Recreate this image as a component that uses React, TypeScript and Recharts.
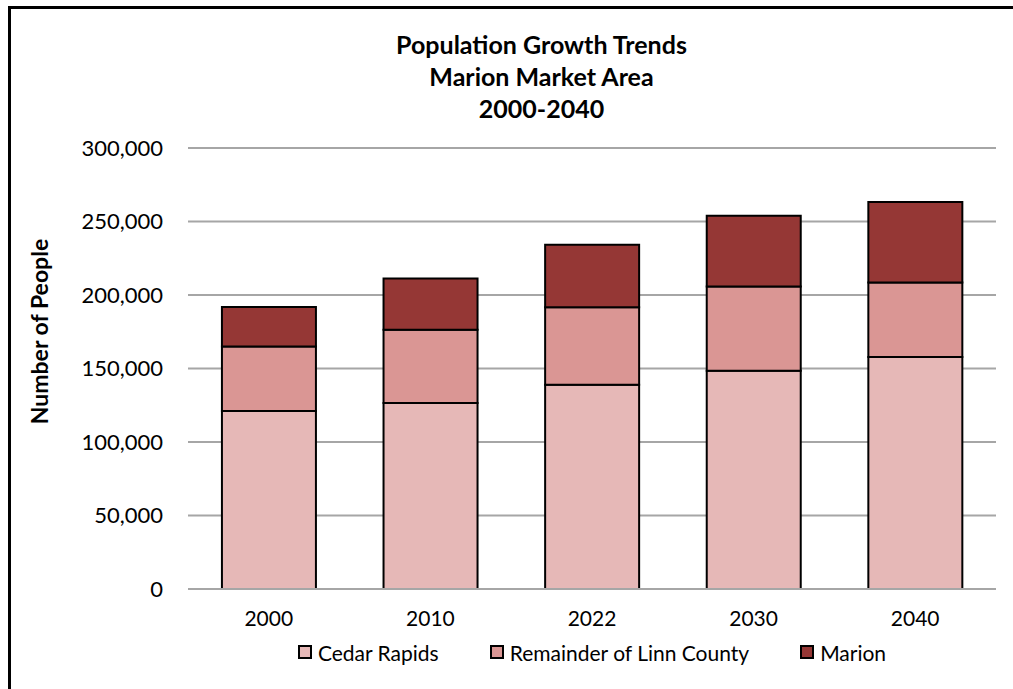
import React from 'react';
import { BarChart, Bar, XAxis, YAxis, CartesianGrid, Legend } from 'recharts';

// Population by year
const years = ['2000', '2010', '2022', '2030', '2040'];
const cedarRapids = [121100, 126500, 139000, 148500, 157800];
const remainderLinn = [43900, 49900, 52600, 57350, 50750];
const marion = [26800, 34900, 42650, 48100, 54700];
const yTicks = [0, 50000, 100000, 150000, 200000, 250000, 300000];
const titleLines = ['Population Growth Trends', 'Marion Market Area', '2000-2040'];

const series = [
  { key: 'cedarRapids', name: 'Cedar Rapids', color: '#E6B8B7' },
  { key: 'remainderLinn', name: 'Remainder of Linn County', color: '#DA9694' },
  { key: 'marion', name: 'Marion', color: '#953735' },
];

const data = years.map((year, i) => ({
  year,
  cedarRapids: cedarRapids[i],
  remainderLinn: remainderLinn[i],
  marion: marion[i],
}));

const FONT = 'Lato, "Open Sans", sans-serif';

const fmt = (v: number) => v.toLocaleString('en-US');

const LegendContent = () => (
  <div
    style={{
      display: 'flex',
      justifyContent: 'center',
      alignItems: 'center',
      paddingLeft: 180,
      height: 30,
      fontFamily: FONT,
      fontSize: 21,
      color: '#000',
    }}
  >
    {series.map((s, i) => (
      <div key={s.key} style={{ display: 'flex', alignItems: 'center', marginLeft: i === 0 ? 0 : 51 }}>
        <span
          style={{
            display: 'inline-block',
            width: 10,
            height: 10,
            background: s.color,
            border: '2px solid #000',
            marginRight: 6,
          }}
        />
        <span>{s.name}</span>
      </div>
    ))}
  </div>
);

const YLabel = (props: any) => {
  const { viewBox } = props;
  const cy = viewBox.y + viewBox.height / 2 - 37;
  return (
    <text
      x={31}
      y={cy}
      transform={`rotate(-90, 31, ${cy})`}
      textAnchor="middle"
      dominantBaseline="central"
      fontFamily={FONT}
      fontWeight="bold"
      fontSize={23}
      fill="#000"
    >
      Number of People
    </text>
  );
};

const App: React.FC = () => {
  return (
    <div style={{ position: 'relative', width: 1013, height: 689, overflow: 'hidden', fontFamily: FONT }}>
      <style>{'html,body{margin:0;padding:0;overflow:hidden;background:#fff}'}</style>
      <div style={{ position: 'absolute', left: 8, top: 8, width: 1005, height: 681 }}>
        {/* chart frame: only top and left edges fall inside the picture */}
        <div
          style={{
            position: 'absolute',
            left: 0,
            top: -2,
            width: 1040,
            height: 720,
            borderTop: '3px solid #000',
            borderLeft: '3px solid #000',
            boxSizing: 'border-box',
          }}
        />
        <div
          style={{
            position: 'absolute',
            left: 0,
            top: 20,
            width: 1067,
            textAlign: 'center',
            fontWeight: 'bold',
            fontSize: 25,
            lineHeight: '32px',
            color: '#000',
          }}
        >
          {titleLines.map((t) => (
            <div key={t}>{t}</div>
          ))}
        </div>
        <div style={{ position: 'absolute', left: 0, top: 0 }}>
          <BarChart
            width={1005}
            height={681}
            data={data}
            margin={{ top: 140, right: 17, left: 0, bottom: 22 }}
            barCategoryGap="21%"
          >
            <CartesianGrid vertical={false} stroke="#A6A6A6" strokeWidth={2} />
            <XAxis
              dataKey="year"
              tickLine={false}
              axisLine={{ stroke: '#A6A6A6', strokeWidth: 2 }}
              tickSize={0}
              tickMargin={22}
              height={48}
              tick={{ fontFamily: FONT, fontSize: 21, fill: '#000' }}
            />
            <YAxis
              width={180}
              domain={[0, 300000]}
              ticks={yTicks}
              tickFormatter={fmt}
              tickLine={false}
              axisLine={false}
              tickSize={0}
              tickMargin={25}
              tick={{ fontFamily: FONT, fontSize: 22, fill: '#000' }}
              label={{ content: YLabel }}
            />
            <Legend verticalAlign="bottom" height={30} content={LegendContent} />
            {series.map((s) => (
              <Bar
                key={s.key}
                dataKey={s.key}
                name={s.name}
                stackId="pop"
                fill={s.color}
                stroke="#000"
                strokeWidth={2}
                isAnimationActive={false}
              />
            ))}
          </BarChart>
        </div>
      </div>
    </div>
  );
};

export default App;
